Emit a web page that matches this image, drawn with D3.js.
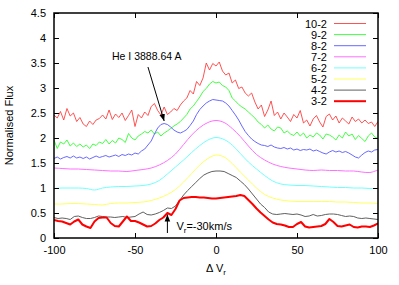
<!DOCTYPE html>
<html>
<head>
<meta charset="utf-8">
<script src="https://cdn.jsdelivr.net/npm/d3@7"></script>
<style>
body { margin: 0; background: #fff; }
text { font-family: "Liberation Sans", Arial, sans-serif; font-size: 11px; fill: #000; }
</style>
</head>
<body>
<div id="chart"></div>
<script>
// velocity grids (km/s) the spectra were sampled on
const velFine = d3.range(-100, 100.1, 2);
const velMid = d3.range(-100, 100.1, 2.5);
const velCoarse = d3.range(-100, 100.1, 5);

const seriesNames = ["10-2", "9-2", "8-2", "7-2", "6-2", "5-2", "4-2", "3-2"];
const xTicks = [-100, -50, 0, 50, 100];
const yTicks = [0, 0.5, 1, 1.5, 2, 2.5, 3, 3.5, 4, 4.5];

const flux10_2 = [
  2.46, 2.40, 2.53, 2.36, 2.59, 2.44, 2.50, 2.33, 2.41, 2.28,
  2.23, 2.34, 2.27, 2.36, 2.39, 2.46, 2.38, 2.56, 2.37, 2.48,
  2.41, 2.50, 2.35, 2.45, 2.56, 2.23, 2.47, 2.40, 2.52, 2.45,
  2.63, 2.69, 2.55, 2.46, 2.62, 2.47, 2.52, 2.59, 2.55, 2.66,
  2.74, 2.80, 2.95, 2.88, 3.13, 3.05, 3.20, 3.50, 3.36, 3.49,
  3.44, 3.52, 3.34, 3.26, 3.30, 3.10, 3.16, 2.99, 3.02, 2.90,
  2.84, 2.90, 2.72, 2.58, 2.66, 2.43, 2.56, 2.74, 2.45, 2.52,
  2.38, 2.50, 2.42, 2.33, 2.47, 2.40, 2.55, 2.30, 2.36, 2.24,
  2.38, 2.45, 2.32, 2.22, 2.43, 2.48, 2.36, 2.44, 2.30, 2.40,
  2.34, 2.28, 2.42, 2.33, 2.38, 2.30, 2.36, 2.29, 2.32, 2.23,
  2.33
];
const flux9_2 = [
  1.96, 1.79, 1.92, 1.88, 1.96, 1.84, 1.90, 1.83, 1.88, 1.82,
  1.86, 1.79, 1.88, 1.85, 1.92, 1.89, 1.97, 1.88, 1.95, 1.90,
  2.00, 1.97, 1.91, 2.09, 2.00, 1.96, 2.04, 2.08, 2.13, 2.10,
  2.16, 2.08, 2.12, 2.04, 2.10, 2.14, 2.19, 2.24, 2.28, 2.33,
  2.40, 2.47, 2.58, 2.64, 2.73, 2.82, 2.93, 2.99, 3.08, 3.13,
  3.10, 3.12, 3.05, 3.02, 2.95, 2.80, 2.74, 2.67, 2.62, 2.58,
  2.52, 2.46, 2.40, 2.32, 2.27, 2.20, 2.26, 2.18, 2.14, 2.22,
  2.20, 2.10, 2.14, 2.08, 2.05, 2.12, 2.04, 2.10, 2.00, 2.06,
  2.02, 2.10, 2.06, 1.98, 2.08, 2.06, 2.02, 1.96, 2.06, 2.00,
  2.12, 2.04, 2.08, 1.97, 2.05, 1.99, 1.93, 2.04, 2.10, 2.02,
  1.99
];
const flux8_2 = [
  1.59, 1.62, 1.58, 1.61, 1.63, 1.60, 1.64, 1.60, 1.62, 1.59,
  1.62, 1.58, 1.61, 1.64, 1.61, 1.63, 1.65, 1.62, 1.64, 1.66,
  1.63, 1.67, 1.65, 1.68, 1.66, 1.70, 1.68, 1.74, 1.78, 1.86,
  1.94, 2.08, 2.20, 2.27, 2.29, 2.27, 2.22, 2.16, 2.12, 2.10,
  2.13, 2.17, 2.25, 2.34, 2.47, 2.57, 2.64, 2.70, 2.74, 2.77,
  2.76, 2.75, 2.74, 2.70, 2.64, 2.55, 2.46, 2.36, 2.24, 2.13,
  2.05, 1.98, 1.93, 1.89, 1.86, 1.85, 1.83, 1.86, 1.82, 1.80,
  1.79, 1.81, 1.78, 1.80, 1.76, 1.78, 1.75, 1.77, 1.76, 1.78,
  1.74, 1.76, 1.73, 1.70, 1.68, 1.72, 1.75, 1.72, 1.74, 1.71,
  1.73, 1.70, 1.66, 1.62, 1.60, 1.66, 1.71, 1.74, 1.72, 1.76,
  1.77
];
const flux7_2 = [
  1.40, 1.39, 1.38, 1.38, 1.37, 1.36, 1.35, 1.34, 1.34, 1.33,
  1.35, 1.37, 1.40, 1.46, 1.55, 1.68, 1.87, 2.06, 2.21, 2.31,
  2.35, 2.31, 2.19, 2.03, 1.84, 1.67, 1.56, 1.48, 1.43, 1.40,
  1.38, 1.36, 1.35, 1.36, 1.35, 1.35, 1.34, 1.34, 1.32, 1.31,
  1.36
];
const flux6_2 = [
  0.99, 1.00, 1.00, 1.00, 0.99, 0.96, 1.00, 1.02, 1.03, 1.03,
  1.04, 1.05, 1.08, 1.15, 1.28, 1.42, 1.56, 1.71, 1.85, 1.96,
  2.01, 1.97, 1.86, 1.69, 1.52, 1.38, 1.25, 1.14, 1.08, 1.06,
  1.05, 1.05, 1.04, 1.03, 1.02, 1.01, 1.01, 1.00, 1.00, 0.99,
  0.99
];
const flux5_2 = [
  0.68, 0.68, 0.69, 0.69, 0.68, 0.67, 0.66, 0.69, 0.70, 0.70,
  0.71, 0.72, 0.75, 0.80, 0.87, 0.97, 1.12, 1.29, 1.46, 1.59,
  1.66, 1.62, 1.49, 1.32, 1.16, 1.00, 0.87, 0.80, 0.76, 0.74,
  0.73, 0.73, 0.73, 0.73, 0.73, 0.72, 0.72, 0.71, 0.70, 0.70,
  0.69
];
const flux4_2 = [
  0.41, 0.39, 0.40, 0.39, 0.37, 0.43, 0.44, 0.41, 0.39, 0.39,
  0.41, 0.44, 0.43, 0.42, 0.42, 0.41, 0.42, 0.43, 0.41, 0.42,
  0.43, 0.48, 0.52, 0.47, 0.46, 0.48, 0.51, 0.55, 0.60, 0.59,
  0.64, 0.75, 0.86, 0.95, 1.03, 1.11, 1.19, 1.26, 1.30, 1.33,
  1.34, 1.34, 1.33, 1.29, 1.25, 1.21, 1.14, 1.07, 0.98, 0.88,
  0.78, 0.68, 0.61, 0.52, 0.48, 0.47, 0.48, 0.49, 0.48, 0.47,
  0.48, 0.46, 0.43, 0.44, 0.47, 0.44, 0.45, 0.47, 0.48, 0.48,
  0.47, 0.45, 0.43, 0.44, 0.43, 0.40, 0.39, 0.40, 0.39, 0.38,
  0.37
];
const flux3_2 = [
  0.36, 0.34, 0.33, 0.30, 0.27, 0.33, 0.37, 0.27, 0.23, 0.20,
  0.33, 0.40, 0.41, 0.41, 0.30, 0.24, 0.23, 0.33, 0.43, 0.34,
  0.34, 0.31, 0.27, 0.23, 0.24, 0.29, 0.36, 0.41, 0.50, 0.46,
  0.58, 0.75, 0.80, 0.81, 0.82, 0.82, 0.81, 0.81, 0.80, 0.79,
  0.79, 0.80, 0.81, 0.82, 0.83, 0.84, 0.86, 0.84, 0.76, 0.68,
  0.59, 0.51, 0.44, 0.37, 0.31, 0.28, 0.27, 0.25, 0.22, 0.22,
  0.28, 0.32, 0.23, 0.21, 0.22, 0.23, 0.24, 0.28, 0.38, 0.32,
  0.24, 0.23, 0.25, 0.27, 0.22, 0.21, 0.23, 0.23, 0.22, 0.25,
  0.29
];

// annotations (data units)
const heLine = { label: "He I 3888.64 A", from: [-42, 3.42], to: [-32, 2.34] };
const vrMark = { v: -30, from: 0.1, to: 0.47 };

const fluxes = [flux10_2, flux9_2, flux8_2, flux7_2, flux6_2, flux5_2, flux4_2, flux3_2];
const grids = [velFine, velFine, velFine, velCoarse, velCoarse, velCoarse, velMid, velMid];
const colors = ["#ff4040", "#30ff30", "#5858ff", "#ff70ff", "#70ffff", "#ffff60", "#606060", "#ff0000"];
const widths = [0.9, 0.9, 0.9, 1, 1, 1, 1, 2];
const smooth = [false, false, false, true, true, true, false, false];

var margin = { top: 13, right: 21, bottom: 47, left: 54 },
    width = 399 - margin.left - margin.right,
    height = 285 - margin.top - margin.bottom;

var svg = d3.select("#chart").append("svg")
    .attr("width", 399)
    .attr("height", 285);
var g = svg.append("g")
    .attr("transform", "translate(" + margin.left + "," + margin.top + ")");

var x = d3.scaleLinear().domain([-100, 100]).range([0, width]);
var y = d3.scaleLinear().domain([0, 4.5]).range([height, 0]);

svg.append("defs").append("clipPath").attr("id", "clip")
  .append("rect").attr("width", width).attr("height", height);

var arrow = svg.select("defs").append("marker")
    .attr("id", "head").attr("viewBox", "0 0 10 10")
    .attr("refX", 10).attr("refY", 5)
    .attr("markerWidth", 7).attr("markerHeight", 7)
    .attr("markerUnits", "userSpaceOnUse")
    .attr("orient", "auto");
arrow.append("path").attr("d", "M0,1 L10,5 L0,9 z").attr("fill", "#000");

// spectra
var plot = g.append("g").attr("clip-path", "url(#clip)");
seriesNames.forEach(function(name, i) {
  var line = d3.line()
      .x(function(d, j) { return x(grids[i][j]); })
      .y(function(d) { return y(d); })
      .curve(smooth[i] ? d3.curveCatmullRom : d3.curveLinear);
  plot.append("path")
      .attr("d", line(fluxes[i]))
      .attr("fill", "none")
      .attr("stroke", colors[i])
      .attr("stroke-width", widths[i])
      .attr("stroke-linejoin", "round");
});

// axes, ticks pointing inward, mirrored on top and right
var fmt = function(d) { return String(d); };
g.append("g").attr("transform", "translate(0," + height + ")")
  .call(d3.axisBottom(x).tickValues(xTicks).tickFormat(fmt).tickSizeInner(-5).tickSizeOuter(0).tickPadding(8));
g.append("g")
  .call(d3.axisTop(x).tickValues(xTicks).tickFormat("").tickSizeInner(-5).tickSizeOuter(0));
g.append("g")
  .call(d3.axisLeft(y).tickValues(yTicks).tickFormat(fmt).tickSizeInner(-5).tickSizeOuter(0).tickPadding(8));
g.append("g").attr("transform", "translate(" + width + ",0)")
  .call(d3.axisRight(y).tickValues(yTicks).tickFormat("").tickSizeInner(-5).tickSizeOuter(0));
g.selectAll(".domain").remove();
g.selectAll(".tick line").attr("stroke", "#000").attr("stroke-width", 1);
g.selectAll(".tick text").style("font-size", "11px").attr("fill", "#000");

g.append("rect")
    .attr("width", width).attr("height", height)
    .attr("fill", "none").attr("stroke", "#000").attr("stroke-width", 1.5);

// axis titles
var xt = svg.append("text")
    .attr("x", margin.left + width / 2).attr("y", 272)
    .attr("text-anchor", "middle");
xt.append("tspan").text("\u0394 V");
xt.append("tspan").attr("dy", 3).style("font-size", "8px").text("r");

svg.append("text")
    .attr("transform", "translate(13," + (margin.top + height / 2) + ") rotate(-90)")
    .attr("text-anchor", "middle")
    .text("Normalised Flux");

// legend
var legend = g.append("g");
seriesNames.forEach(function(name, i) {
  var ly = 10.5 + i * 11.1;
  legend.append("text")
      .attr("x", 273).attr("y", ly + 4)
      .attr("text-anchor", "end")
      .text(name);
  legend.append("line")
      .attr("x1", 280).attr("x2", 312)
      .attr("y1", ly).attr("y2", ly)
      .attr("stroke", colors[i])
      .attr("stroke-width", widths[i]);
});

// He I annotation
g.append("text")
    .attr("x", x(heLine.from[0]) - 36).attr("y", y(heLine.from[1]) - 7)
    .style("font-size", "10.5px")
    .text(heLine.label);
g.append("line")
    .attr("x1", x(heLine.from[0])).attr("y1", y(heLine.from[1]))
    .attr("x2", x(heLine.to[0])).attr("y2", y(heLine.to[1]))
    .attr("stroke", "#000").attr("stroke-width", 1)
    .attr("marker-end", "url(#head)");

// V_r marker
g.append("line")
    .attr("x1", x(vrMark.v)).attr("y1", y(vrMark.from))
    .attr("x2", x(vrMark.v)).attr("y2", y(vrMark.to))
    .attr("stroke", "#000").attr("stroke-width", 1)
    .attr("marker-end", "url(#head)");
var vt = g.append("text")
    .attr("x", x(vrMark.v) + 9).attr("y", height - 8);
vt.append("tspan").text("V");
vt.append("tspan").attr("dy", 3).style("font-size", "8px").text("r");
vt.append("tspan").attr("dy", -3).text("=-30km/s");
</script>
</body>
</html>
